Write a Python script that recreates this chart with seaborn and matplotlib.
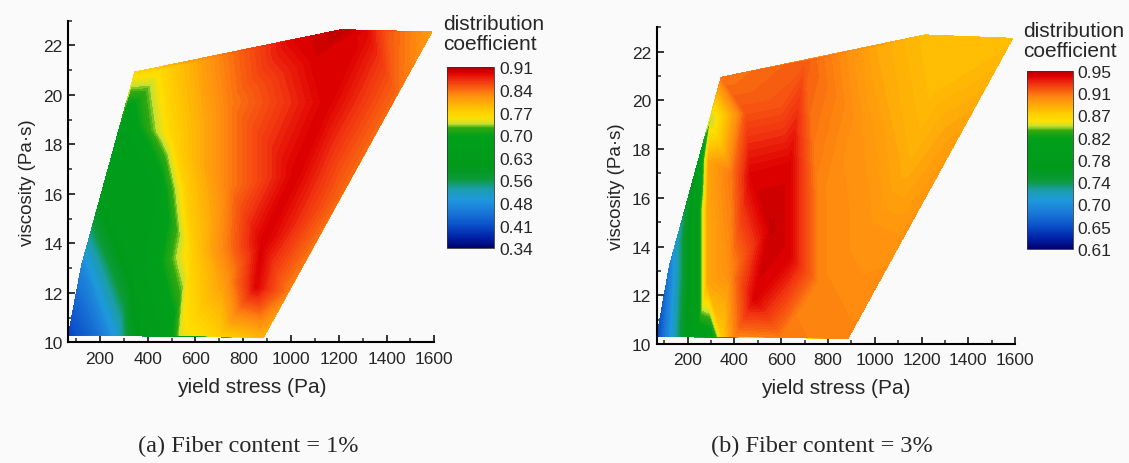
"""Distribution coefficient contour maps over yield stress / viscosity, two fibre contents."""

import matplotlib.pyplot as plt
import matplotlib.tri as mtri
import numpy as np
import seaborn as sns
from matplotlib.colors import LinearSegmentedColormap, Normalize
from matplotlib.ticker import MultipleLocator

# fibre content = 1 %
stress_a = [68, 123, 208, 293, 346, 200, 270, 330, 490, 540, 700, 885,
            350, 420, 330, 590, 560, 510, 470, 740, 740, 720, 720,
            855, 880, 1020, 1150, 1100, 1000, 1210, 1313,
            986, 1214, 1442, 1400, 1590]
visc_a = [10.3, 13.1, 16.0, 19.0, 20.93, 10.3, 10.3, 10.3, 10.3, 10.3, 10.28, 10.2,
          13.0, 16.0, 18.0, 13.6, 16.3, 18.3, 21.1, 16.3, 19.7, 21.6, 12.5,
          12.26, 14.0, 16.8, 19.7, 21.5, 22.2, 22.64, 22.6,
          12.0, 16.0, 20.0, 22.58, 22.55]
coef_a = [0.40, 0.47, 0.62, 0.66, 0.76, 0.45, 0.50, 0.58, 0.67, 0.74, 0.77, 0.79,
          0.63, 0.64, 0.645, 0.77, 0.77, 0.765, 0.765, 0.83, 0.83, 0.83, 0.81,
          0.89, 0.895, 0.895, 0.895, 0.895, 0.89, 0.905, 0.89,
          0.83, 0.84, 0.84, 0.85, 0.81]

# fibre content = 3 %
stress_b = [68, 122, 247, 298, 343, 150, 240, 305, 350, 400,
            240, 240, 285, 285, 290,
            472, 636, 636, 486, 560,
            380, 390, 450, 600, 700, 760, 760, 600, 886,
            950, 1000, 1098, 1327, 1000, 1214, 1590, 1250, 1150]
visc_b = [10.3, 13.2, 17.5, 19.3, 20.95, 10.3, 10.3, 10.3, 10.3, 10.3,
          12.5, 15.5, 12.5, 15.5, 17.5,
          16.9, 17.3, 13.6, 11.85, 14.8,
          13.0, 17.0, 19.5, 19.8, 21.6, 16.0, 12.5, 10.28, 10.23,
          19.0, 15.0, 14.0, 18.0, 22.2, 22.69, 22.55, 20.5, 17.5]
coef_b = [0.645, 0.68, 0.78, 0.84, 0.905, 0.72, 0.80, 0.81, 0.87, 0.90,
          0.80, 0.80, 0.885, 0.885, 0.885,
          0.94, 0.94, 0.94, 0.94, 0.945,
          0.897, 0.905, 0.915, 0.915, 0.912, 0.90, 0.90, 0.903, 0.90,
          0.893, 0.893, 0.895, 0.89, 0.885, 0.875, 0.875, 0.875, 0.882]

cbar_range_a = (0.34, 0.91)
cbar_labels_a = ["0.34", "0.41", "0.48", "0.56", "0.63", "0.70", "0.77", "0.84", "0.91"]
cbar_range_b = (0.61, 0.95)
cbar_labels_b = ["0.61", "0.65", "0.70", "0.74", "0.78", "0.82", "0.87", "0.91", "0.95"]

captions = ["(a) Fiber content = 1%", "(b) Fiber content = 3%"]

# Origin-style rainbow: navy -> blue -> green -> yellow -> orange -> red
CMAP = LinearSegmentedColormap.from_list("origin", [
    (0.00, "#00006e"), (0.06, "#0022a8"), (0.125, "#0a4fc8"), (0.20, "#1a78d8"),
    (0.27, "#1e98dc"), (0.33, "#1a9ea8"), (0.38, "#0c9a3a"), (0.45, "#009a1a"),
    (0.62, "#00a01a"), (0.665, "#30a810"), (0.69, "#c8e030"), (0.72, "#ffe000"),
    (0.76, "#ffcc00"), (0.85, "#ff8a10"), (0.93, "#f03010"), (0.97, "#e00000"),
    (1.00, "#b00000"),
])

BG = "#fafafa"


def draw_panel(fig, ax, cax, x, y, z, vrange, labels, title_y, xscale):
    x, y, z = np.asarray(x, float), np.asarray(y, float), np.asarray(z, float)
    # triangulate on rescaled coords so the mesh is not squashed by the axis ranges
    base = mtri.Triangulation(x / xscale, y)
    tri = mtri.Triangulation(x, y, triangles=base.triangles)
    vmin, vmax = vrange
    levels = np.linspace(vmin, vmax, 121)
    for _ in range(2):  # second pass hides hairline seams between bands
        ax.tricontourf(tri, z, levels=levels, cmap=CMAP, extend="both")

    ax.set_xlim(68, 1600)
    ax.set_ylim(10, 23)
    ax.set_xticks(np.arange(200, 1601, 200))
    ax.set_yticks(np.arange(10, 23, 2))
    ax.xaxis.set_minor_locator(MultipleLocator(100))
    ax.yaxis.set_minor_locator(MultipleLocator(1))
    ax.tick_params(which="major", direction="in", length=5, width=1.3, labelsize=12.5)
    ax.tick_params(which="minor", direction="in", length=3, width=1.1)
    ax.tick_params(axis="x", which="major", pad=6)
    ax.tick_params(axis="y", which="major", pad=4)
    ax.set_xlabel("yield stress (Pa)", fontsize=15, labelpad=8)
    ax.set_ylabel("viscosity (Pa·s)", fontsize=13.5, labelpad=5)
    ax.set_facecolor(BG)
    for side in ("left", "bottom"):
        ax.spines[side].set_linewidth(1.5)
        ax.spines[side].set_color("black")
    sns.despine(ax=ax)

    sm = plt.cm.ScalarMappable(cmap=CMAP, norm=Normalize(vmin=vmin, vmax=vmax))
    cb = fig.colorbar(sm, cax=cax)
    cb.set_ticks(np.linspace(vmin, vmax, len(labels)))
    cb.set_ticklabels(labels)
    cb.ax.tick_params(length=0, labelsize=12.5, pad=3.5)
    cb.outline.set_linewidth(0.6)
    cb.outline.set_edgecolor("#333333")
    cax.text(-0.08, title_y, "distribution\ncoefficient", transform=cax.transAxes,
             ha="left", va="bottom", fontsize=15, linespacing=1.05)


def main() -> None:
    sns.set_theme(style="ticks")
    plt.rcParams["font.family"] = ["Liberation Sans", "DejaVu Sans"]

    fig = plt.figure(figsize=(11.29, 4.64), dpi=100, facecolor=BG)
    ax_a = fig.add_axes([0.0605, 0.2597, 0.3242, 0.6935])
    cax_a = fig.add_axes([0.3957, 0.4627, 0.0419, 0.3901])
    ax_b = fig.add_axes([0.5817, 0.2565, 0.3174, 0.6825])
    cax_b = fig.add_axes([0.9094, 0.4612, 0.0407, 0.3843])

    draw_panel(fig, ax_a, cax_a, stress_a, visc_a, coef_a, cbar_range_a, cbar_labels_a, 1.08, 100.0)
    draw_panel(fig, ax_b, cax_b, stress_b, visc_b, coef_b, cbar_range_b, cbar_labels_b, 1.06, 50.0)

    for xc, text in zip((0.220, 0.728), captions):
        fig.text(xc, 0.026, text, ha="center", va="baseline", fontsize=17.5,
                 family=["Liberation Serif", "DejaVu Serif"])

    fig.savefig("out.png", dpi=100, facecolor=BG)
    plt.close(fig)


if __name__ == "__main__":
    main()
